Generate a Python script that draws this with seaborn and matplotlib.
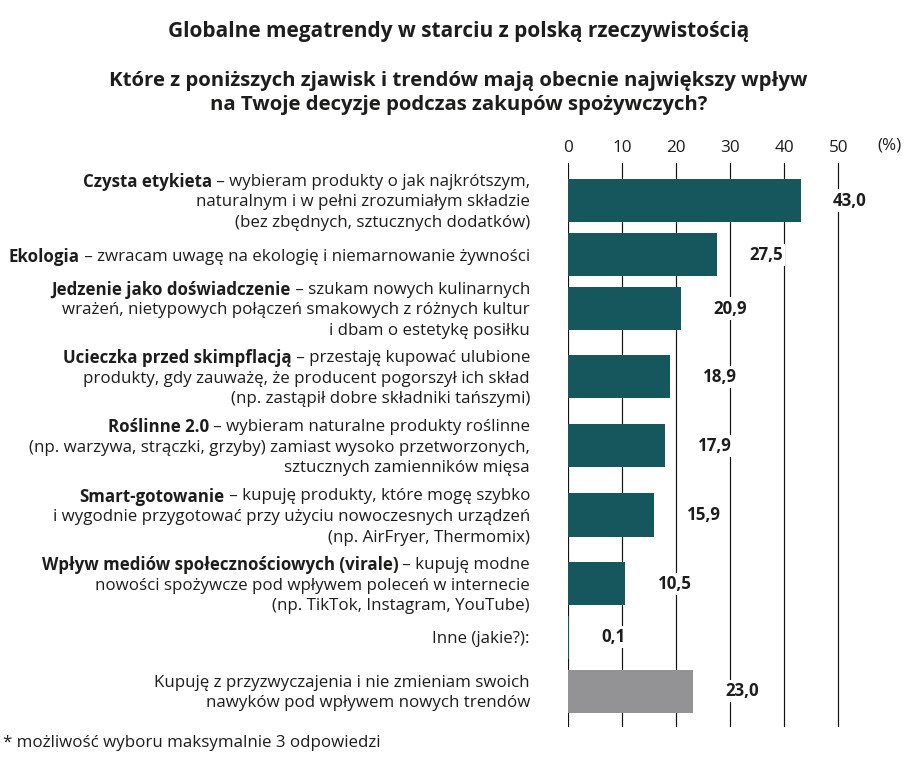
import numpy as np
import pandas as pd
import matplotlib
matplotlib.use("Agg")
import matplotlib.pyplot as plt
import matplotlib.transforms as mtransforms
import seaborn as sns

# ---------------- data ----------------
names = [
    "Czysta etykieta",
    "Ekologia",
    "Jedzenie jako doświadczenie",
    "Ucieczka przed skimpflacją",
    "Roślinne 2.0",
    "Smart-gotowanie",
    "Wpływ mediów społecznościowych (virale)",
    "",
    "",
]
descriptions = [
    [" – wybieram produkty o jak najkrótszym,", "naturalnym i w pełni zrozumiałym składzie",
     "(bez zbędnych, sztucznych dodatków)"],
    [" – zwracam uwagę na ekologię i niemarnowanie żywności"],
    [" – szukam nowych kulinarnych", "wrażeń, nietypowych połączeń smakowych z różnych kultur",
     "i dbam o estetykę posiłku"],
    [" – przestaję kupować ulubione", "produkty, gdy zauważę, że producent pogorszył ich skład",
     "(np. zastąpił dobre składniki tańszymi)"],
    [" – wybieram naturalne produkty roślinne",
     "(np. warzywa, strączki, grzyby) zamiast wysoko przetworzonych,",
     "sztucznych zamienników mięsa"],
    [" – kupuję produkty, które mogę szybko",
     "i wygodnie przygotować przy użyciu nowoczesnych urządzeń", "(np. AirFryer, Thermomix)"],
    [" – kupuję modne", "nowości spożywcze pod wpływem poleceń w internecie",
     "(np. TikTok, Instagram, YouTube)"],
    ["Inne (jakie?):"],
    ["Kupuję z przyzwyczajenia i nie zmieniam swoich", "nawyków pod wpływem nowych trendów"],
]
values = [43.0, 27.5, 20.9, 18.9, 17.9, 15.9, 10.5, 0.1, 23.0]
groups = ["trend"] * 8 + ["habit"]
x_ticks = [0, 10, 20, 30, 40, 50]

title = "Globalne megatrendy w starciu z polską rzeczywistością"
subtitle = ("Które z poniższych zjawisk i trendów mają obecnie największy wpływ\n"
            "na Twoje decyzje podczas zakupów spożywczych?")
footnote = "* możliwość wyboru maksymalnie 3 odpowiedzi"
unit_label = "(%)"

# ---------------- layout / style ----------------
row_pos = [200.5, 254.7, 308.5, 376.6, 445.7, 515.0, 583.6, 637.1, 691.1]
TEAL = "#16575d"
GRAY = "#939396"
TXT = "#1d1d1b"
W, H = 917, 762

sns.set_theme(style="white")
plt.rcParams['font.family'] = ['Open Sans', 'DejaVu Sans']

fig = plt.figure(figsize=(W / 100, H / 100), dpi=100)
ax_left, ax_right = 568.3, 903.1
ax_top, ax_bot = 162.7, 727.4
ax = fig.add_axes([ax_left / W, 1 - ax_bot / H, (ax_right - ax_left) / W, (ax_bot - ax_top) / H])

df = pd.DataFrame({"value": values, "row": row_pos, "group": groups})
sns.barplot(data=df, x="value", y="row", hue="group",
            palette={"trend": TEAL, "habit": GRAY}, orient="h",
            native_scale=True, width=0.804, legend=False, ax=ax,
            saturation=1, linewidth=0)

ax.set_xlim(0, 62)
ax.set_ylim(ax_bot, ax_top)
ax.set_xticks(x_ticks)
ax.set_xticklabels([str(t) for t in x_ticks])
ax.xaxis.tick_top()
ax.tick_params(axis='x', length=0, pad=5, labelsize=12.3, labelcolor=TXT)
ax.set_yticks([])
ax.set_xlabel("")
ax.set_ylabel("")
for s in ax.spines.values():
    s.set_visible(False)
ax.grid(axis='x', color='#111111', lw=0.85)
ax.grid(axis='y', visible=False)
ax.set_axisbelow(True)

fig.text(890 / W, 1 - 145 / H, unit_label, ha='center', va='center', fontsize=12.3, color=TXT)

# value labels
for v, r in zip(values, row_pos):
    tr = mtransforms.offset_copy(ax.transData, fig=fig, x=32.5, y=0, units='dots')
    ax.text(v, r, f"{v:.1f}".replace('.', ','), transform=tr, ha='left', va='center',
            fontsize=12.2, fontweight='bold', color=TXT,
            bbox=dict(fc='white', ec='none', pad=1.5), zorder=5)

# category labels (bold prefix + regular text)
renderer = fig.canvas.get_renderer()
base = mtransforms.blended_transform_factory(fig.transFigure, ax.transData)
x_right = 530 / W
line_h = 20.5
LBL_FS = 12.2
for name, lines, r in zip(names, descriptions, row_pos):
    n = len(lines)
    for i, line in enumerate(lines):
        dy = -(i - (n - 1) / 2) * line_h
        tr = mtransforms.offset_copy(base, fig=fig, x=0, y=dy, units='dots')
        t = ax.text(x_right, r, line, transform=tr, ha='right', va='center_baseline',
                    fontsize=LBL_FS, color=TXT, clip_on=False)
        if i == 0 and name:
            w = t.get_window_extent(renderer).width
            tr2 = mtransforms.offset_copy(base, fig=fig, x=-w, y=dy, units='dots')
            ax.text(x_right, r, name, transform=tr2, ha='right', va='center_baseline',
                    fontsize=LBL_FS, fontweight='bold', color=TXT, clip_on=False)

fig.text(0.5, 1 - 31 / H, title, ha='center', va='center', fontsize=15.0,
         fontweight='bold', color=TXT)
fig.text(0.5, 1 - 93 / H, subtitle, ha='center', va='center', fontsize=14.7,
         fontweight='bold', color=TXT, linespacing=1.33, multialignment='center')
fig.text(3 / W, 1 - 743 / H, footnote, ha='left', va='center', fontsize=12.2, color=TXT)

fig.savefig("out.png", dpi=100)
